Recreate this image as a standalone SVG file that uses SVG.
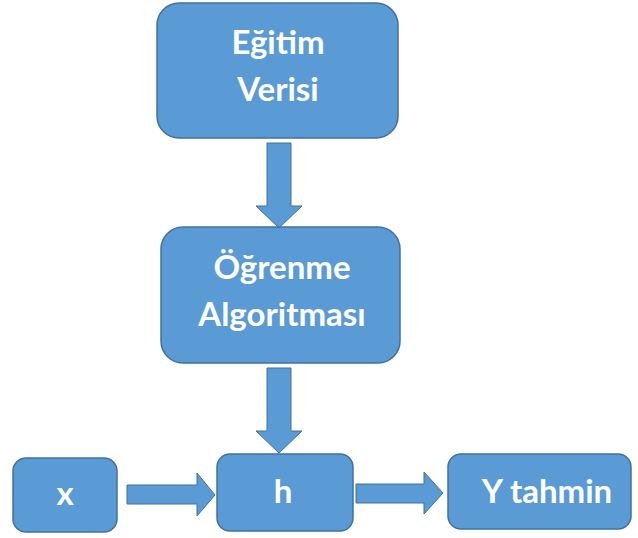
<svg xmlns="http://www.w3.org/2000/svg" width="638" height="538" viewBox="0 0 638 538">
<defs>
<style>
.node rect{fill:#5B9BD5;stroke:#41719C;stroke-width:1.5}
.node text{fill:#FFFFFF;font-family:Lato,"Open Sans","Liberation Sans",sans-serif;font-weight:bold;font-size:33px;text-anchor:middle}
.arrow{fill:#5B9BD5;stroke:#41719C;stroke-width:1}
</style>
</defs>
<rect width="638" height="538" fill="#FFFFFF"/>
<g id="connectors">
<polygon class="arrow" points="267,143 291,143 291,206 302,206 279,228 256,206 267,206"/>
<polygon class="arrow" points="267,368 291,368 291,431 302,431 279,453 256,431 267,431"/>
<polygon class="arrow" points="127,485 197,485 197,473 215,495 197,516 197,504 127,504"/>
<polygon class="arrow" points="356,484 424,484 424,472 443,493 424,514 424,503 356,503"/>
</g>
<g id="egitim-verisi" class="node">
<rect x="157" y="3" width="241" height="135" rx="22"/>
<text x="278" y="54">Eğitim</text>
<text x="278" y="101">Verisi</text>
</g>
<g id="ogrenme-algoritmasi" class="node">
<rect x="161" y="227" width="239" height="136" rx="22"/>
<text x="282" y="279">Öğrenme</text>
<text x="282" y="326">Algoritması</text>
</g>
<g id="x" class="node">
<rect x="13" y="458" width="104" height="74" rx="13"/>
<text x="65" y="505">x</text>
</g>
<g id="h" class="node">
<rect x="217" y="454" width="136" height="77" rx="13"/>
<text x="283" y="503">h</text>
</g>
<g id="y-tahmin" class="node">
<rect x="448" y="454" width="183" height="75" rx="13"/>
<text x="547" y="503">Y tahmin</text>
</g>
</svg>
